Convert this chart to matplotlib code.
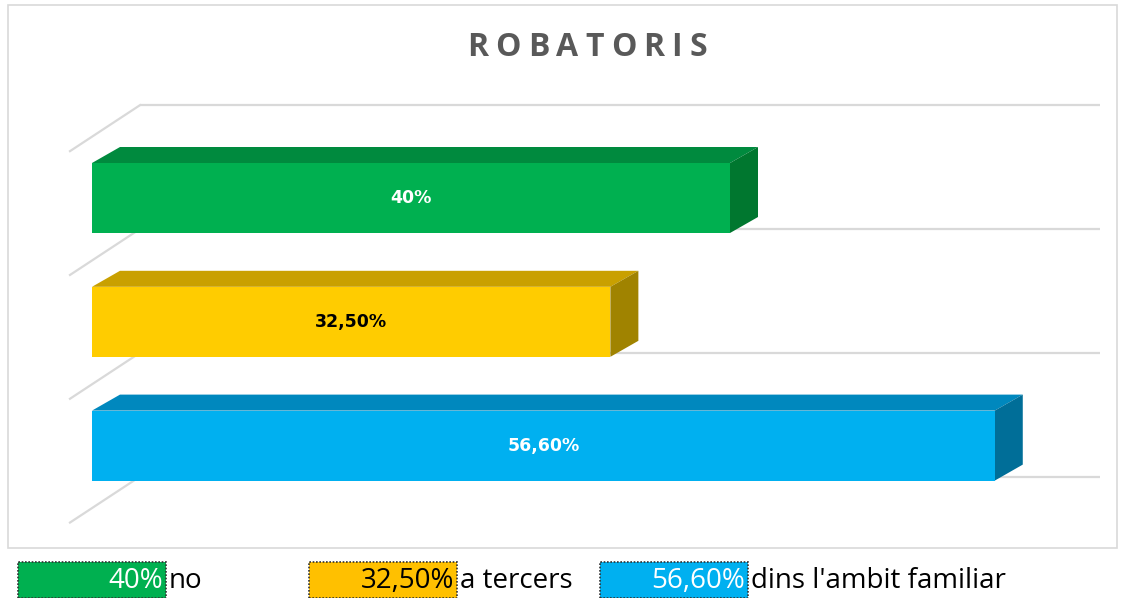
import matplotlib
matplotlib.use('Agg')
import matplotlib.pyplot as plt
from matplotlib.patches import Polygon, Rectangle

# ---- data ----
categories = ["no", "a tercers", "dins l'ambit familiar"]
values = [40.0, 32.5, 56.6]
value_labels = ["40%", "32,50%", "56,60%"]
title = "ROBATORIS"

# ---- style ----
front_colors = ["#00B050", "#FFCC00", "#00B0F0"]
top_colors = ["#008A3E", "#C9A000", "#0088BE"]
side_colors = ["#00772F", "#A08300", "#006E98"]
label_colors = ["white", "black", "white"]
legend_text_colors = ["white", "black", "white"]
legend_box_colors = ["#00B050", "#FFC000", "#00B0F0"]

W, H = 1123, 598
fig = plt.figure(figsize=(W / 100, H / 100), dpi=100)
ax = fig.add_axes([0, 0, 1, 1])
px_per_pct = 15.95
px_per_cat = 123.8
x0px, y0px = 92, 198
ax.set_xlim(-x0px / px_per_pct, (W - x0px) / px_per_pct)
ax.set_ylim((H - y0px) / px_per_cat, -y0px / px_per_cat)
ax.axis('off')

# 3D geometry (in data units)
depth_dx = 28 / px_per_pct
depth_dy = -16 / px_per_cat
half_h = 35 / px_per_cat
floor_dx = 70 / px_per_pct
floor_dy = 46 / px_per_cat
wall_x0 = 48 / px_per_pct
axis_max = 60.2

grid_col = "#D9D9D9"
for i in range(len(categories) + 1):
    yb = i - 0.75
    ax.plot([wall_x0, wall_x0 + axis_max], [yb, yb], color=grid_col, lw=1.6, zorder=1,
            solid_capstyle='butt')
    ax.plot([wall_x0 - floor_dx, wall_x0], [yb + floor_dy, yb], color=grid_col, lw=1.6,
            zorder=1)

for i, (v, lab) in enumerate(zip(values, value_labels)):
    y_top = i - half_h
    y_bot = i + half_h
    front = [(0, y_top), (v, y_top), (v, y_bot), (0, y_bot)]
    top = [(0, y_top), (depth_dx, y_top + depth_dy), (v + depth_dx, y_top + depth_dy), (v, y_top)]
    side = [(v, y_top), (v + depth_dx, y_top + depth_dy), (v + depth_dx, y_bot + depth_dy), (v, y_bot)]
    ax.add_patch(Polygon(top, closed=True, fc=top_colors[i], ec='none', zorder=3))
    ax.add_patch(Polygon(side, closed=True, fc=side_colors[i], ec='none', zorder=3))
    ax.add_patch(Polygon(front, closed=True, fc=front_colors[i], ec='none', zorder=4))
    ax.text(v / 2, i, lab, ha='center', va='center', color=label_colors[i],
            fontsize=12.5, fontweight='bold', family='DejaVu Sans', zorder=5)

# chart frame
fig.patches.append(Rectangle((8 / W, 1 - 548 / H), 1109 / W, 543 / H, transform=fig.transFigure,
                             fill=False, ec="#D9D9D9", lw=1.2))

# title with letter tracking
renderer = fig.canvas.get_renderer()
tkw = dict(color="#595959", fontsize=23, fontweight='bold', family=['Open Sans', 'DejaVu Sans'],
           va='center', ha='left')
tracking = 7.0
letters = []
widths = []
for ch in title:
    t = fig.text(0, 1 - 48 / H, ch, **tkw)
    widths.append(t.get_window_extent(renderer).width)
    letters.append(t)
total = sum(widths) + tracking * (len(title) - 1)
x = 587 - total / 2
for t, w in zip(letters, widths):
    t.set_x(x / W)
    x += w + tracking

# legend (table-like)
box_w, box_h = 148, 36
for i, (cat, lab) in enumerate(zip(categories, value_labels)):
    bx = 18 + i * 291
    by = 562
    fig.patches.append(Rectangle((bx / W, 1 - (by + box_h) / H), box_w / W, box_h / H,
                                 transform=fig.transFigure, fc=legend_box_colors[i],
                                 ec="#333333", lw=1.2, ls=(0, (1, 1))))
    fig.text((bx + box_w - 3) / W, 1 - (by + 19) / H, lab, ha='right', va='center',
             color=legend_text_colors[i], fontsize=20, family=['Open Sans', 'DejaVu Sans'])
    fig.text((bx + box_w + 3) / W, 1 - (by + 19) / H, cat, ha='left', va='center',
             color='black', fontsize=20, family=['Open Sans', 'DejaVu Sans'])

fig.savefig("out.png", dpi=100)
